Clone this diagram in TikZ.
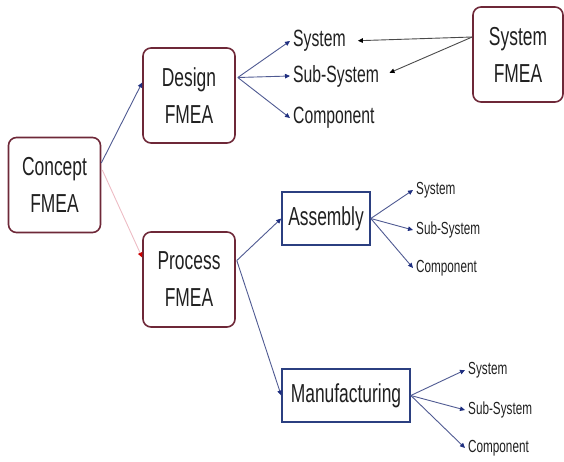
\documentclass[tikz,border=0pt]{standalone}
\usepackage{fontspec}
\setmainfont{Liberation Sans}
\newfontfamily\narrowfont[FakeStretch=0.67]{Liberation Sans}
\usetikzlibrary{arrows.meta,calc}
\definecolor{boxred}{HTML}{6E2838}
\definecolor{boxblue}{HTML}{2B3F80}
\definecolor{linkblue}{HTML}{4F5A92}
\definecolor{tipblue}{HTML}{1F2F80}
\definecolor{linkpink}{HTML}{EDBCC4}
\definecolor{linkgray}{HTML}{4A4A4A}
\definecolor{txt}{HTML}{202020}
\tikzset{
  fmea/.style={draw=boxred, line width=1.6pt, rounded corners=8pt, minimum width=92pt, minimum height=95pt, align=center, text=txt, font=\narrowfont\fontsize{26}{37}\selectfont},
  stage/.style={draw=boxblue, line width=1.6pt, minimum height=53pt, text=txt, font=\narrowfont\fontsize{26}{30}\selectfont},
  item/.style={anchor=west, inner sep=3pt, text=txt, font=\narrowfont\fontsize{23.5}{26}\selectfont},
  smallitem/.style={item, font=\narrowfont\fontsize{17.5}{20}\selectfont},
  link/.style={draw=linkblue, line width=0.9pt, -{Triangle[length=5pt,width=4.5pt,color=tipblue]}},
  back/.style={draw=linkgray, line width=0.9pt, -{Triangle[length=5pt,width=4.5pt,color=black]}},
}
\begin{document}
\begin{tikzpicture}[x=1pt,y=-1pt]
\useasboundingbox (0,0) rectangle (564,461);
% the FMEA boxes
\node[fmea] (concept) at (54.5,185) {Concept\\FMEA};
\node[fmea] (design) at (189,95.5) {Design\\FMEA};
\node[fmea] (process) at (189,279.5) {Process\\FMEA};
\node[fmea, minimum width=90pt] (sysfmea) at (518,54.5) {System\\FMEA};
\node[stage, minimum width=88pt] (assembly) at (326,218.5) {Assembly};
\node[stage, minimum width=128pt] (manuf) at (346,395.5) {Manufacturing};
% levels under design
\node[item] (dsys) at (290,41) {System};
\node[item] (dsub) at (290,76) {Sub-System};
\node[item] (dcomp) at (290,118) {Component};
% levels under assembly
\node[smallitem] (asys) at (413,190) {System};
\node[smallitem] (asub) at (413,230) {Sub-System};
\node[smallitem] (acomp) at (413,268) {Component};
% levels under manufacturing
\node[smallitem] (msys) at (465,370) {System};
\node[smallitem] (msub) at (465,410) {Sub-System};
\node[smallitem] (mcomp) at (465,448) {Component};
% connectors
\coordinate (dout) at ($(design.east)+(2,-18)$);
\coordinate (pout) at ($(process.east)+(1,-19)$);
\coordinate (sout) at ($(sysfmea.west)+(0,-17.5)$);
\draw[link] ($(concept.east)+(0,-22)$) -- ($(design.west)+(0,-13)$);
\draw[draw=linkpink, line width=0.9pt, -{Triangle[length=5pt,width=4.5pt,color=red!80!black]}] ($(concept.east)+(1,-15)$) -- ($(process.west)+(0,-22)$);
\foreach \t in {dsys,dsub,dcomp} \draw[link] (dout) -- (\t.west);
\draw[link] (pout) -- (assembly.west);
\draw[link] (pout) -- (manuf.west);
\foreach \t in {asys,asub,acomp} \draw[link] (assembly.east) -- (\t.west);
\foreach \t in {msys,msub,mcomp} \draw[link] (manuf.east) -- (\t.west);
\draw[back, shorten >=9pt] (sout) -- (dsys.east);
\draw[back, shorten >=8pt] (sout) -- (dsub.east);
\end{tikzpicture}
\end{document}
